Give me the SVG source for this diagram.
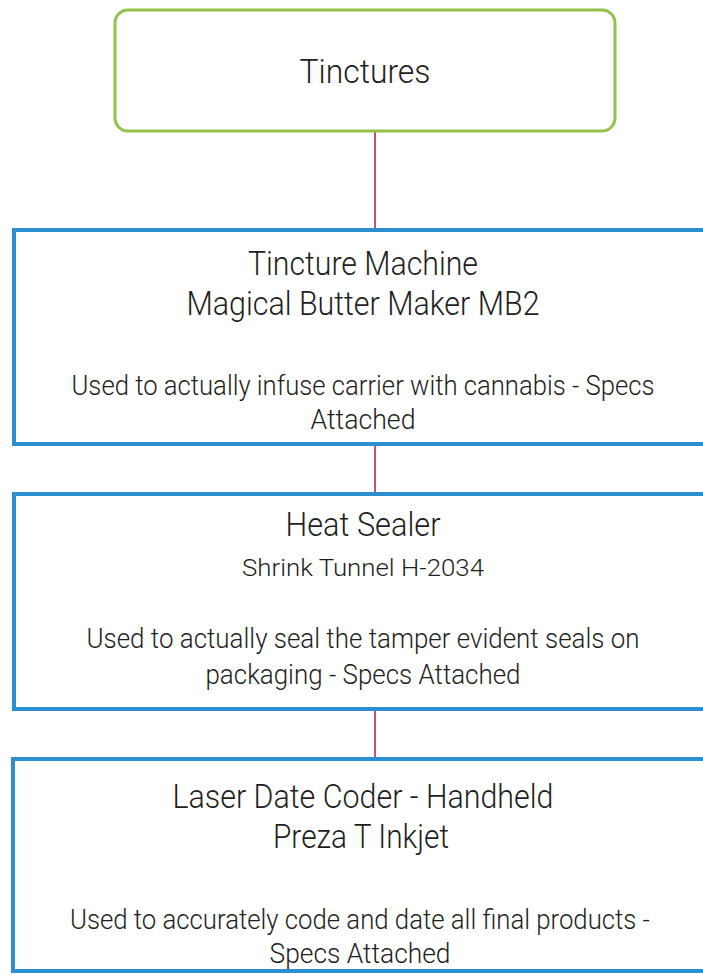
<svg xmlns="http://www.w3.org/2000/svg" width="703" height="974" viewBox="0 0 703 974">
<style>
.bg{fill:#ffffff}
.green{fill:#ffffff;stroke:#93c24a;stroke-width:3}
.blue{fill:#ffffff;stroke:#2b8fd2;stroke-width:4}
.conn{stroke:#b8284a;stroke-width:1.6;fill:none}
text{font-family:Roboto,"Liberation Sans",sans-serif;font-weight:300;fill:#1e1e1e;text-anchor:middle}
.t1{font-size:33px}
.t2{font-size:27px}
.t3{font-size:24px}
</style>
<rect class="bg" x="0" y="0" width="703" height="974"/>
<g id="connectors">
<line class="conn" x1="375" y1="131" x2="375" y2="229"/>
<line class="conn" x1="375" y1="444" x2="375" y2="493"/>
<line class="conn" x1="375" y1="709" x2="375" y2="758"/>
</g>
<g id="tinctures">
<rect class="green" x="115" y="10" width="500" height="121" rx="13"/>
<text class="t1" x="365" y="83" textLength="131" lengthAdjust="spacingAndGlyphs">Tinctures</text>
</g>
<g id="tincture-machine">
<rect class="blue" x="14" y="230" width="710" height="214"/>
<text class="t1" x="363" y="275" textLength="230" lengthAdjust="spacingAndGlyphs">Tincture Machine</text>
<text class="t1" x="363" y="315" textLength="353" lengthAdjust="spacingAndGlyphs">Magical Butter Maker MB2</text>
<text class="t2" x="363" y="395" textLength="583" lengthAdjust="spacingAndGlyphs">Used to actually infuse carrier with cannabis - Specs</text>
<text class="t2" x="363" y="429" textLength="105" lengthAdjust="spacingAndGlyphs">Attached</text>
</g>
<g id="heat-sealer">
<rect class="blue" x="14" y="494" width="710" height="215"/>
<text class="t1" x="363" y="536" textLength="155" lengthAdjust="spacingAndGlyphs">Heat Sealer</text>
<text class="t3" x="363" y="576" textLength="242" lengthAdjust="spacingAndGlyphs">Shrink Tunnel H-2034</text>
<text class="t2" x="363" y="648" textLength="553" lengthAdjust="spacingAndGlyphs">Used to actually seal the tamper evident seals on</text>
<text class="t2" x="363" y="684" textLength="315" lengthAdjust="spacingAndGlyphs">packaging - Specs Attached</text>
</g>
<g id="laser-date-coder">
<rect class="blue" x="13" y="759" width="711" height="212"/>
<text class="t1" x="363" y="808" textLength="381" lengthAdjust="spacingAndGlyphs">Laser Date Coder - Handheld</text>
<text class="t1" x="361" y="848" textLength="176" lengthAdjust="spacingAndGlyphs">Preza T Inkjet</text>
<text class="t2" x="360" y="929" textLength="580" lengthAdjust="spacingAndGlyphs">Used to accurately code and date all final products -</text>
<text class="t2" x="360" y="963" textLength="181" lengthAdjust="spacingAndGlyphs">Specs Attached</text>
</g>
</svg>
